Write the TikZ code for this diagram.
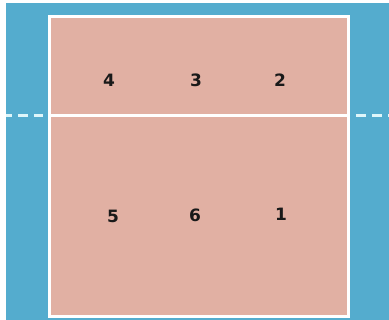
\documentclass[tikz,border=0pt]{standalone}
\usepackage{fontspec}
\setmainfont{DejaVu Sans}
\definecolor{floorblue}{RGB}{84,172,206}
\definecolor{courtpink}{RGB}{225,176,163}
\definecolor{dashwhite}{RGB}{222,246,250}
\tikzset{posnum/.style={font=\fontsize{17}{17}\selectfont\bfseries,text=black!90,inner sep=0pt}}
\begin{document}
\begin{tikzpicture}[x=1pt,y=-1pt,line cap=butt,line join=miter]
	\useasboundingbox (0,0) rectangle (389,320);
	\fill[white] (0,0) rectangle (389,320);
	\fill[floorblue] (6,3) rectangle (389,320);
	\fill[courtpink] (49.5,16.5) rectangle (348.5,316.5);
	\draw[white,line width=3pt] (49.5,16.5) rectangle (348.5,316.5);
	\draw[white,line width=3pt] (49.5,116) -- (348.5,116);
	\draw[dashwhite,line width=3pt,dash pattern=on 10pt off 6pt,dash phase=4pt] (6,116) -- (43,116);
	\draw[dashwhite,line width=3pt,dash pattern=on 10pt off 6pt] (356,116) -- (389,116);
	\node[posnum] (p4) at (109,80) {4};
	\node[posnum] (p3) at (196,80) {3};
	\node[posnum] (p2) at (280,80) {2};
	\node[posnum] (p5) at (113,216) {5};
	\node[posnum] (p6) at (195,215) {6};
	\node[posnum] (p1) at (281,214) {1};
\end{tikzpicture}
\end{document}
